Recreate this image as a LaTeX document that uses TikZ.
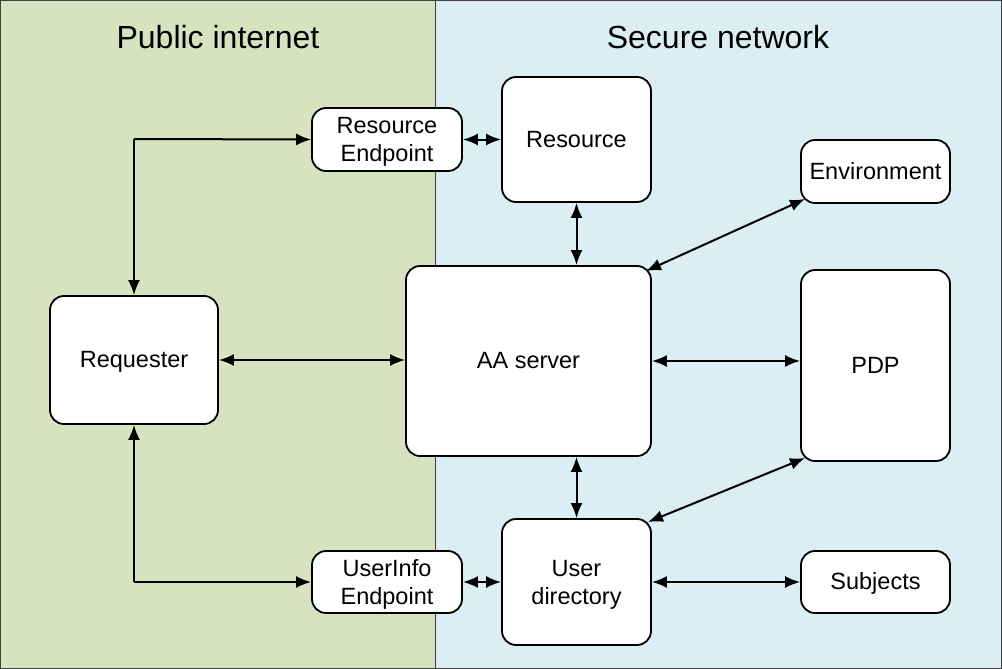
\documentclass[tikz,border=0pt]{standalone}
\usepackage{fontspec}
\setmainfont{Liberation Sans}
\usetikzlibrary{arrows.meta}
\definecolor{pubgreen}{HTML}{D7E3BF}
\definecolor{secblue}{HTML}{DAEEF3}
\definecolor{frame}{HTML}{404040}
\begin{document}
\begin{tikzpicture}[x=1pt,y=-1pt,
  box/.style={draw=black,line width=1.8pt,fill=white,rounded corners=14pt,
    align=center,inner sep=0pt,font=\fontsize{23.5}{28}\selectfont},
  txt/.style={label={[align=center,inner sep=0pt,yshift=-2.5pt,font=\fontsize{23.5}{28}\selectfont]center:#1}},
  txtone/.style={label={[inner sep=0pt,yshift=0.5pt,text height=22pt,text depth=5.2pt,font=\fontsize{23.5}{28}\selectfont]center:#1}},
  title/.style={font=\fontsize{32}{38}\selectfont},
  link/.style={line width=2pt,{Latex[length=15pt,width=12pt]}-{Latex[length=15pt,width=12pt]}},
  onelink/.style={line width=2pt,-{Latex[length=15pt,width=12pt]}}]
\useasboundingbox (0,0) rectangle (1002,669);
\fill[pubgreen] (0,0) rectangle (435,668);
\fill[secblue] (435,0) rectangle (1001,668);
\draw[frame,line width=1pt] (435,0) -- (435,668);
\draw[frame,line width=1.2pt] (0.6,0.6) rectangle (1001.4,668.4);
\node[title] (tpub) at (218,37.5) {Public internet};
\node[title] (tsec) at (718,37.5) {Secure network};
% boxes
\node[box,minimum width=150pt,minimum height=63pt,txt={Resource\\Endpoint}] (rep) at (387,139.5) {};
\node[box,minimum width=149pt,minimum height=125pt,txtone={Resource}] (res) at (576.5,139.5) {};
\node[box,minimum width=149pt,minimum height=63pt,txtone={Environment}] (env) at (875.5,171.5) {};
\node[box,minimum width=168pt,minimum height=128pt,txtone={Requester}] (req) at (134,360) {};
\node[box,minimum width=245pt,minimum height=190pt,txtone={AA server}] (aa) at (528.5,361) {};
\node[box,minimum width=149pt,minimum height=191pt,txtone={PDP}] (pdp) at (875.5,365.5) {};
\node[box,minimum width=150pt,minimum height=62pt,txt={UserInfo\\Endpoint}] (uep) at (387,582) {};
\node[box,minimum width=149pt,minimum height=126pt,txt={User\\directory}] (ud) at (576.5,582) {};
\node[box,minimum width=149pt,minimum height=62pt,txtone={Subjects}] (sub) at (875.5,582) {};
% connectors
\coordinate (c1) at (134,139);
\coordinate (c2) at (134,582);
\draw[onelink] (c1) -- (req.north);
\draw[onelink] (c1) -- (rep.west);
\draw[onelink] (c2) -- (req.south);
\draw[onelink] (c2) -- (uep.west);
\draw[link] (rep.east) -- (res.west);
\draw[link] (uep.east) -- (ud.west);
\draw[link] (res.south) -- (aa.north -| res.south);
\draw[link] (aa.south -| ud.north) -- (ud.north);
\draw[link] (req.east) -- (aa.west |- req.east);
\draw[link] (aa.east) -- (pdp.west |- aa.east);
\draw[link] (ud.east) -- (sub.west);
\coordinate (e1) at (805,199);
\coordinate (a1) at (646,271);
\draw[link] (a1) -- (e1);
\coordinate (p1) at (805,458);
\coordinate (u1) at (648,522);
\draw[link] (u1) -- (p1);
\end{tikzpicture}
\end{document}
